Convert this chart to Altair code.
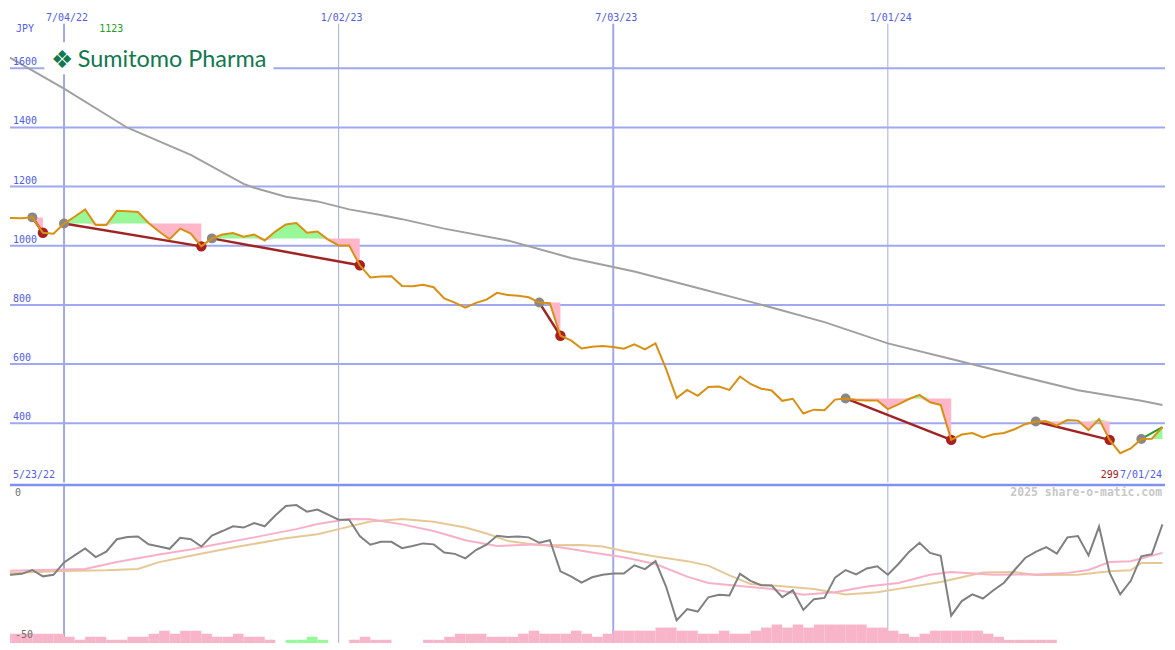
import altair as alt
import pandas as pd

# ---------------- data ----------------
start_date = "2022-05-23"
n_weeks = 111

price = [1093, 1094, 1093, 1096, 1044, 1041, 1075, 1098, 1123, 1070,
         1070, 1118, 1117, 1114, 1077, 1048, 1022, 1058, 1041, 998,
         1025, 1038, 1043, 1031, 1038, 1018, 1048, 1072, 1077, 1044,
         1048, 1021, 1001, 1001, 934, 893, 896, 897, 864, 863,
         868, 860, 822, 808, 791, 807, 818, 841, 834, 831,
         826, 808, 806, 696, 680, 653, 659, 661, 658, 652,
         667, 650, 670, 584, 485, 513, 493, 523, 524, 513,
         558, 533, 517, 511, 476, 483, 433, 446, 444, 480,
         484, 479, 477, 477, 448, 464, 482, 496, 471, 462,
         344, 362, 367, 352, 363, 367, 380, 397, 406, 407,
         392, 411, 409, 377, 414, 344, 299, 315, 347, 348,
         387]

ma_weeks = [0, 1, 6, 12, 18, 23, 24, 27, 30, 33, 36, 38, 42, 48, 54, 60,
            66, 72, 78, 84, 90, 96, 102, 108, 110]
ma_vals = [1650, 1633, 1531, 1399, 1307, 1209, 1196, 1166, 1150, 1123, 1104,
           1090, 1058, 1018, 959, 913, 857, 801, 742, 670, 617, 564, 512,
           476, 462]

hi_weeks = [3, 6, 20, 51, 80, 98]
lo_weeks = [4, 19, 34, 53, 90, 105]
open_hi_week = 108

rel = [-28.5, -28.5, -28.2, -27.0, -29.0, -28.5, -24.6, -22.4, -20.2, -22.9,
       -21.2, -17.3, -16.6, -16.4, -18.9, -19.6, -20.3, -16.8, -17.3, -19.6,
       -16.1, -14.7, -13.2, -13.6, -12.2, -13.2, -9.8, -6.8, -6.5, -8.6,
       -7.9, -9.5, -11.1, -11.1, -16.3, -19.0, -18.1, -18.1, -20.1, -19.4,
       -18.6, -18.9, -21.5, -21.9, -23.3, -20.7, -19.0, -16.2, -16.6, -16.4,
       -16.7, -18.4, -17.6, -27.4, -29.0, -31.0, -29.3, -28.5, -28.1, -28.1,
       -25.5, -26.7, -24.2, -32.2, -42.9, -39.3, -40.1, -35.6, -34.8, -35.0,
       -28.2, -30.4, -31.8, -31.9, -35.6, -33.4, -39.6, -36.2, -35.8, -29.4,
       -27.0, -28.4, -26.5, -25.8, -28.5, -25.1, -21.3, -18.4, -21.6, -22.5,
       -41.4, -36.8, -34.7, -36.0, -33.4, -31.0, -27.0, -23.2, -21.3, -19.8,
       -21.8, -16.7, -16.3, -22.4, -13.3, -27.9, -34.7, -30.4, -22.7, -22.0,
       -12.6]

pink_w = [0, 4, 8, 11, 15, 18, 20, 24, 28, 30, 33, 35, 38, 41, 44, 47, 51, 54,
          56, 59, 62, 65, 67, 69, 73, 76, 79, 82, 85, 88, 90, 94, 98, 101, 103,
          105, 107, 110]
pink_v = [-27.3, -27.0, -26.7, -24.5, -22.1, -20.5, -19.2, -16.7, -14.1, -12.5,
          -10.9, -11.0, -12.6, -14.7, -17.6, -19.4, -18.9, -20.4, -21.5, -23.0,
          -25.1, -29.1, -31.1, -31.7, -33.0, -34.8, -34.0, -32.2, -31.1, -28.5,
          -27.6, -28.5, -28.4, -27.9, -27.0, -24.5, -24.2, -21.6]

tan_w = [0, 6, 10, 13, 15, 18, 22, 27, 30, 32, 35, 38, 41, 44, 46, 48, 51, 55,
         57, 59, 62, 65, 67, 69, 71, 74, 77, 80, 83, 86, 89, 93, 96, 98, 102,
         105, 107, 108, 110]
tan_v = [-28.0, -27.3, -27.1, -26.7, -24.5, -22.5, -19.9, -17.0, -15.7, -14.1,
         -11.7, -10.9, -11.8, -13.6, -15.5, -17.8, -19.2, -19.1, -19.6, -21.0,
         -22.7, -24.2, -25.6, -28.7, -31.4, -32.1, -33.0, -34.7, -34.0, -32.4,
         -30.8, -27.8, -27.6, -28.6, -28.5, -27.4, -27.1, -24.8, -24.8]

# weekly histogram (negative = pink, positive = green)
hist = [-3, -3, -3, -3, -3, -3, -2, -1, -2, -2,
        -1, -1, -2, -2, -3, -4, -3, -4, -4, -3,
        -2, -2, -3, -2, -2, -1, 0, 1, 1, 2,
        1, 0, 0, -1, -2, -1, -1, 0, 0, 0,
        -1, -1, -2, -3, -3, -3, -2, -2, -2, -3,
        -4, -3, -3, -3, -4, -3, -2, -3, -4, -4,
        -4, -4, -5, -5, -4, -4, -3, -3, -4, -3,
        -3, -4, -5, -6, -5, -6, -5, -6, -6, -6,
        -6, -6, -5, -5, -4, -3, -2, -3, -4, -4,
        -4, -4, -4, -3, -2, -1, -1, -1, -1, -1,
        0, 0, 0, 0, 0, 0, 0, 0, 0, 0,
        0]

y_ticks = [400, 600, 800, 1000, 1200, 1400, 1600]
x_ticks = ["2022-07-04", "2023-01-02", "2023-07-03", "2024-01-01"]
x_tick_labels = ["7/04/22", "1/02/23", "7/03/23", "1/01/24"]
x_tick_major = [True, False, True, False]
first_label = "5/23/22"
last_label = "7/01/24"
company = "Sumitomo Pharma"
currency = "JPY"
watermark = "2025 share-o-matic.com"

# ---------------- layout helpers ----------------
W, H1, H2 = 1159, 475, 159
SX = W / 1175.0
SY1 = H1 / 487.0
SY2 = H2 / 163.0


def px(x):
    return x * SX


def py(y):
    return y * SY1


def py2(y):
    return (y - 487) * SY2


def ms(s):
    return int(pd.Timestamp(s, tz="UTC").value // 10**6)


XS = alt.Scale(domain=[ms("2022-05-29 04:30"), ms("2024-07-02 16:48")])
YS = alt.Scale(domain=[200, 1800], nice=False, zero=False)
YL = alt.Scale(domain=[-50, 0], nice=False, zero=False)
YB = alt.Scale(domain=[0, 51.7], nice=False, zero=True)

MONO = "DejaVu Sans Mono"
BLUE_TXT = "#5060e8"
GRID_MAJ = "#a0a8f0"
GRID_MIN = "#a8acd8"
ORANGE = "#d99010"
DARKRED = "#a02424"
PINK = "#ffb6c8"
GREEN = "#98f898"

dates = pd.date_range(start_date, periods=n_weeks, freq="7D")
ds = list(dates.strftime("%Y-%m-%d"))
ds_end = list((dates + pd.Timedelta(days=7)).strftime("%Y-%m-%d"))

X = alt.X("date:T", scale=XS, axis=None)

# ---------------- upper panel ----------------
price_df = pd.DataFrame({"date": ds, "price": price})
ma_df = pd.DataFrame({"date": [ds[w] for w in ma_weeks], "ma": ma_vals})

segs = list(zip(hi_weeks, lo_weeks)) + [(open_hi_week, n_weeks - 1)]
fill_rows = []
for si, (h, l) in enumerate(segs):
    L = price[h]
    for w in range(h, l + 1):
        p = price[w]
        fill_rows.append({"seg": si, "date": ds[w], "L": L,
                          "gtop": max(p, L), "pbot": min(p, L)})
fill_df = pd.DataFrame(fill_rows)

trend_rows = []
for si, (h, l) in enumerate(segs[:-1]):
    trend_rows.append({"seg": si, "date": ds[h], "v": price[h]})
    trend_rows.append({"seg": si, "date": ds[l], "v": price[l]})
trend_df = pd.DataFrame(trend_rows)
open_df = pd.DataFrame({"date": [ds[open_hi_week], ds[-1]],
                        "v": [price[open_hi_week], price[-1]]})

grey_dots = pd.DataFrame({"date": [ds[w] for w in hi_weeks + [open_hi_week]],
                          "v": [price[w] for w in hi_weeks + [open_hi_week]]})
red_dots = pd.DataFrame({"date": [ds[w] for w in lo_weeks],
                         "v": [price[w] for w in lo_weeks]})

hgrid_df = pd.DataFrame({"v": y_ticks, "label": [str(v) for v in y_ticks]})
vgrid_df = pd.DataFrame({"date": x_ticks, "label": x_tick_labels,
                         "major": x_tick_major})
vmaj = vgrid_df[vgrid_df.major]
vmin = vgrid_df[~vgrid_df.major]
one = pd.DataFrame({"a": [0]})

hgrid = alt.Chart(hgrid_df).mark_rule(color=GRID_MAJ, strokeWidth=2).encode(
    y=alt.Y("v:Q", scale=YS, axis=None))
vgrid1 = alt.Chart(vmaj).mark_rule(color=GRID_MAJ, strokeWidth=2).encode(
    x=X, y=alt.value(py(15)), y2=alt.value(H1))
vgrid2 = alt.Chart(vmin).mark_rule(color=GRID_MIN, strokeWidth=1).encode(
    x=X, y=alt.value(py(15)), y2=alt.value(H1))

ma_line = alt.Chart(ma_df).mark_line(color="#a0a0a0", strokeWidth=2, clip=True).encode(
    x=X, y=alt.Y("ma:Q", scale=YS))

green_fill = alt.Chart(fill_df).mark_area(color=GREEN, opacity=1, clip=True).encode(
    x=X, y=alt.Y("gtop:Q", scale=YS), y2="L:Q", detail="seg:N")
pink_fill = alt.Chart(fill_df).mark_area(color=PINK, opacity=1, clip=True).encode(
    x=X, y=alt.Y("L:Q", scale=YS), y2="pbot:Q", detail="seg:N")

trend = alt.Chart(trend_df).mark_line(color=DARKRED, strokeWidth=2.5).encode(
    x=X, y=alt.Y("v:Q", scale=YS), detail="seg:N")
open_trend = alt.Chart(open_df).mark_line(color="#22a022", strokeWidth=2).encode(
    x=X, y=alt.Y("v:Q", scale=YS))

gdots = alt.Chart(grey_dots).mark_circle(color="#888888", size=100, opacity=1).encode(
    x=X, y=alt.Y("v:Q", scale=YS))
rdots = alt.Chart(red_dots).mark_circle(color="#aa2020", size=110, opacity=1).encode(
    x=X, y=alt.Y("v:Q", scale=YS))

price_line = alt.Chart(price_df).mark_line(color=ORANGE, strokeWidth=2, clip=True).encode(
    x=X, y=alt.Y("price:Q", scale=YS))

logo_box = alt.Chart(one).mark_rect(color="white").encode(
    x=alt.value(px(35)), x2=alt.value(px(268)),
    y=alt.value(py(34)), y2=alt.value(py(67)))
logo_icon = alt.Chart(one).mark_text(text="\u2756", font="DejaVu Sans", fontSize=25,
                                     color="#12784f", align="center", baseline="middle").encode(
    x=alt.value(px(53)), y=alt.value(py(52)))
logo_text = alt.Chart(one).mark_text(text=company, font="Lato", fontSize=23.5,
                                     color="#12784f", align="left", baseline="alphabetic").encode(
    x=alt.value(px(69)), y=alt.value(py(60)))

ylabels = alt.Chart(hgrid_df).mark_text(font=MONO, fontSize=10, color=BLUE_TXT,
                                        align="left", baseline="alphabetic", dy=-3).encode(
    x=alt.value(px(3)), y=alt.Y("v:Q", scale=YS), text="label:N")
xlabels = alt.Chart(vgrid_df).mark_text(font=MONO, fontSize=10, color=BLUE_TXT,
                                        align="center", baseline="middle", dx=3).encode(
    x=X, y=alt.value(py(9)), text="label:N")
jpy = alt.Chart(one).mark_text(text=currency, font=MONO, fontSize=10, color=BLUE_TXT,
                               align="left", baseline="middle").encode(
    x=alt.value(px(6)), y=alt.value(py(20)))
hi_label = alt.Chart(one).mark_text(text=str(max(price)), font=MONO, fontSize=10,
                                    color="#22a022", align="center", baseline="middle").encode(
    x=alt.value(px(103)), y=alt.value(py(21)))
first_lab = alt.Chart(one).mark_text(text=first_label, font=MONO, fontSize=10, color=BLUE_TXT,
                                     align="left", baseline="middle").encode(
    x=alt.value(px(3)), y=alt.value(py(479)))
last_lab = alt.Chart(one).mark_text(text=last_label, font=MONO, fontSize=10, color=BLUE_TXT,
                                    align="right", baseline="middle").encode(
    x=alt.value(px(1172)), y=alt.value(py(479)))
lo_lab = alt.Chart(one).mark_text(text=str(min(price)), font=MONO, fontSize=10, color="#a01818",
                                  align="right", baseline="middle").encode(
    x=alt.value(px(1128)), y=alt.value(py(479)))

upper = alt.layer(
    hgrid, vgrid1, vgrid2, ma_line, green_fill, pink_fill, trend, open_trend,
    gdots, rdots, price_line, logo_box, logo_icon, logo_text,
    ylabels, xlabels, jpy, hi_label, first_lab, last_lab, lo_lab
).properties(width=W, height=H1)

# ---------------- lower panel ----------------
rel_df = pd.DataFrame({"date": ds, "v": rel})
pink_df = pd.DataFrame({"date": [ds[w] for w in pink_w], "v": pink_v})
tan_df = pd.DataFrame({"date": [ds[w] for w in tan_w], "v": tan_v})
bar_df = pd.DataFrame({"date": ds, "end": ds_end, "h": [abs(v) for v in hist],
                       "sign": ["pos" if v > 0 else "neg" for v in hist],
                       "base": [0] * n_weeks})
bar_df = bar_df[bar_df.h > 0]

lvg1 = alt.Chart(vmaj).mark_rule(color=GRID_MAJ, strokeWidth=2).encode(x=X)
lvg2 = alt.Chart(vmin).mark_rule(color=GRID_MIN, strokeWidth=1).encode(x=X)
bars = alt.Chart(bar_df).mark_rect(clip=True).encode(
    x=X, x2="end:T",
    y=alt.Y("h:Q", scale=YB, axis=None), y2="base:Q",
    color=alt.Color("sign:N", scale=alt.Scale(domain=["neg", "pos"], range=["#f8b4c8", GREEN]),
                    legend=None))
tan_line = alt.Chart(tan_df).mark_line(color="#e6c896", strokeWidth=2, clip=True).encode(
    x=X, y=alt.Y("v:Q", scale=YL, axis=None))
pink_line = alt.Chart(pink_df).mark_line(color="#f8b0c8", strokeWidth=2, clip=True).encode(
    x=X, y=alt.Y("v:Q", scale=YL, axis=None))
rel_line = alt.Chart(rel_df).mark_line(color="#808080", strokeWidth=2, clip=True).encode(
    x=X, y=alt.Y("v:Q", scale=YL, axis=None))
top_border = alt.Chart(one).mark_rule(color="#8090f0", strokeWidth=2.5).encode(
    y=alt.value(0.5))
zero_lab = alt.Chart(one).mark_text(text="0", font=MONO, fontSize=10, color="#707070",
                                    align="left", baseline="middle").encode(
    x=alt.value(px(5)), y=alt.value(py2(496)))
m50_lab = alt.Chart(one).mark_text(text="-50", font=MONO, fontSize=10, color="#707070",
                                   align="left", baseline="middle").encode(
    x=alt.value(px(5)), y=alt.value(py2(642)))
wm = alt.Chart(one).mark_text(text=watermark, font=MONO, fontSize=11.5, fontWeight="bold",
                              color="#c8c8c8", align="right", baseline="middle").encode(
    x=alt.value(px(1172)), y=alt.value(py2(496)))

lower = alt.layer(
    lvg1, lvg2, bars, tan_line, pink_line, rel_line, top_border, zero_lab, m50_lab, wm
).resolve_scale(y="independent").properties(width=W, height=H2)

chart = alt.vconcat(upper, lower, spacing=0).configure_view(strokeWidth=0).properties(
    padding=0, background="white")

chart.save("out.html", embed_options={"renderer": "svg", "actions": False})
